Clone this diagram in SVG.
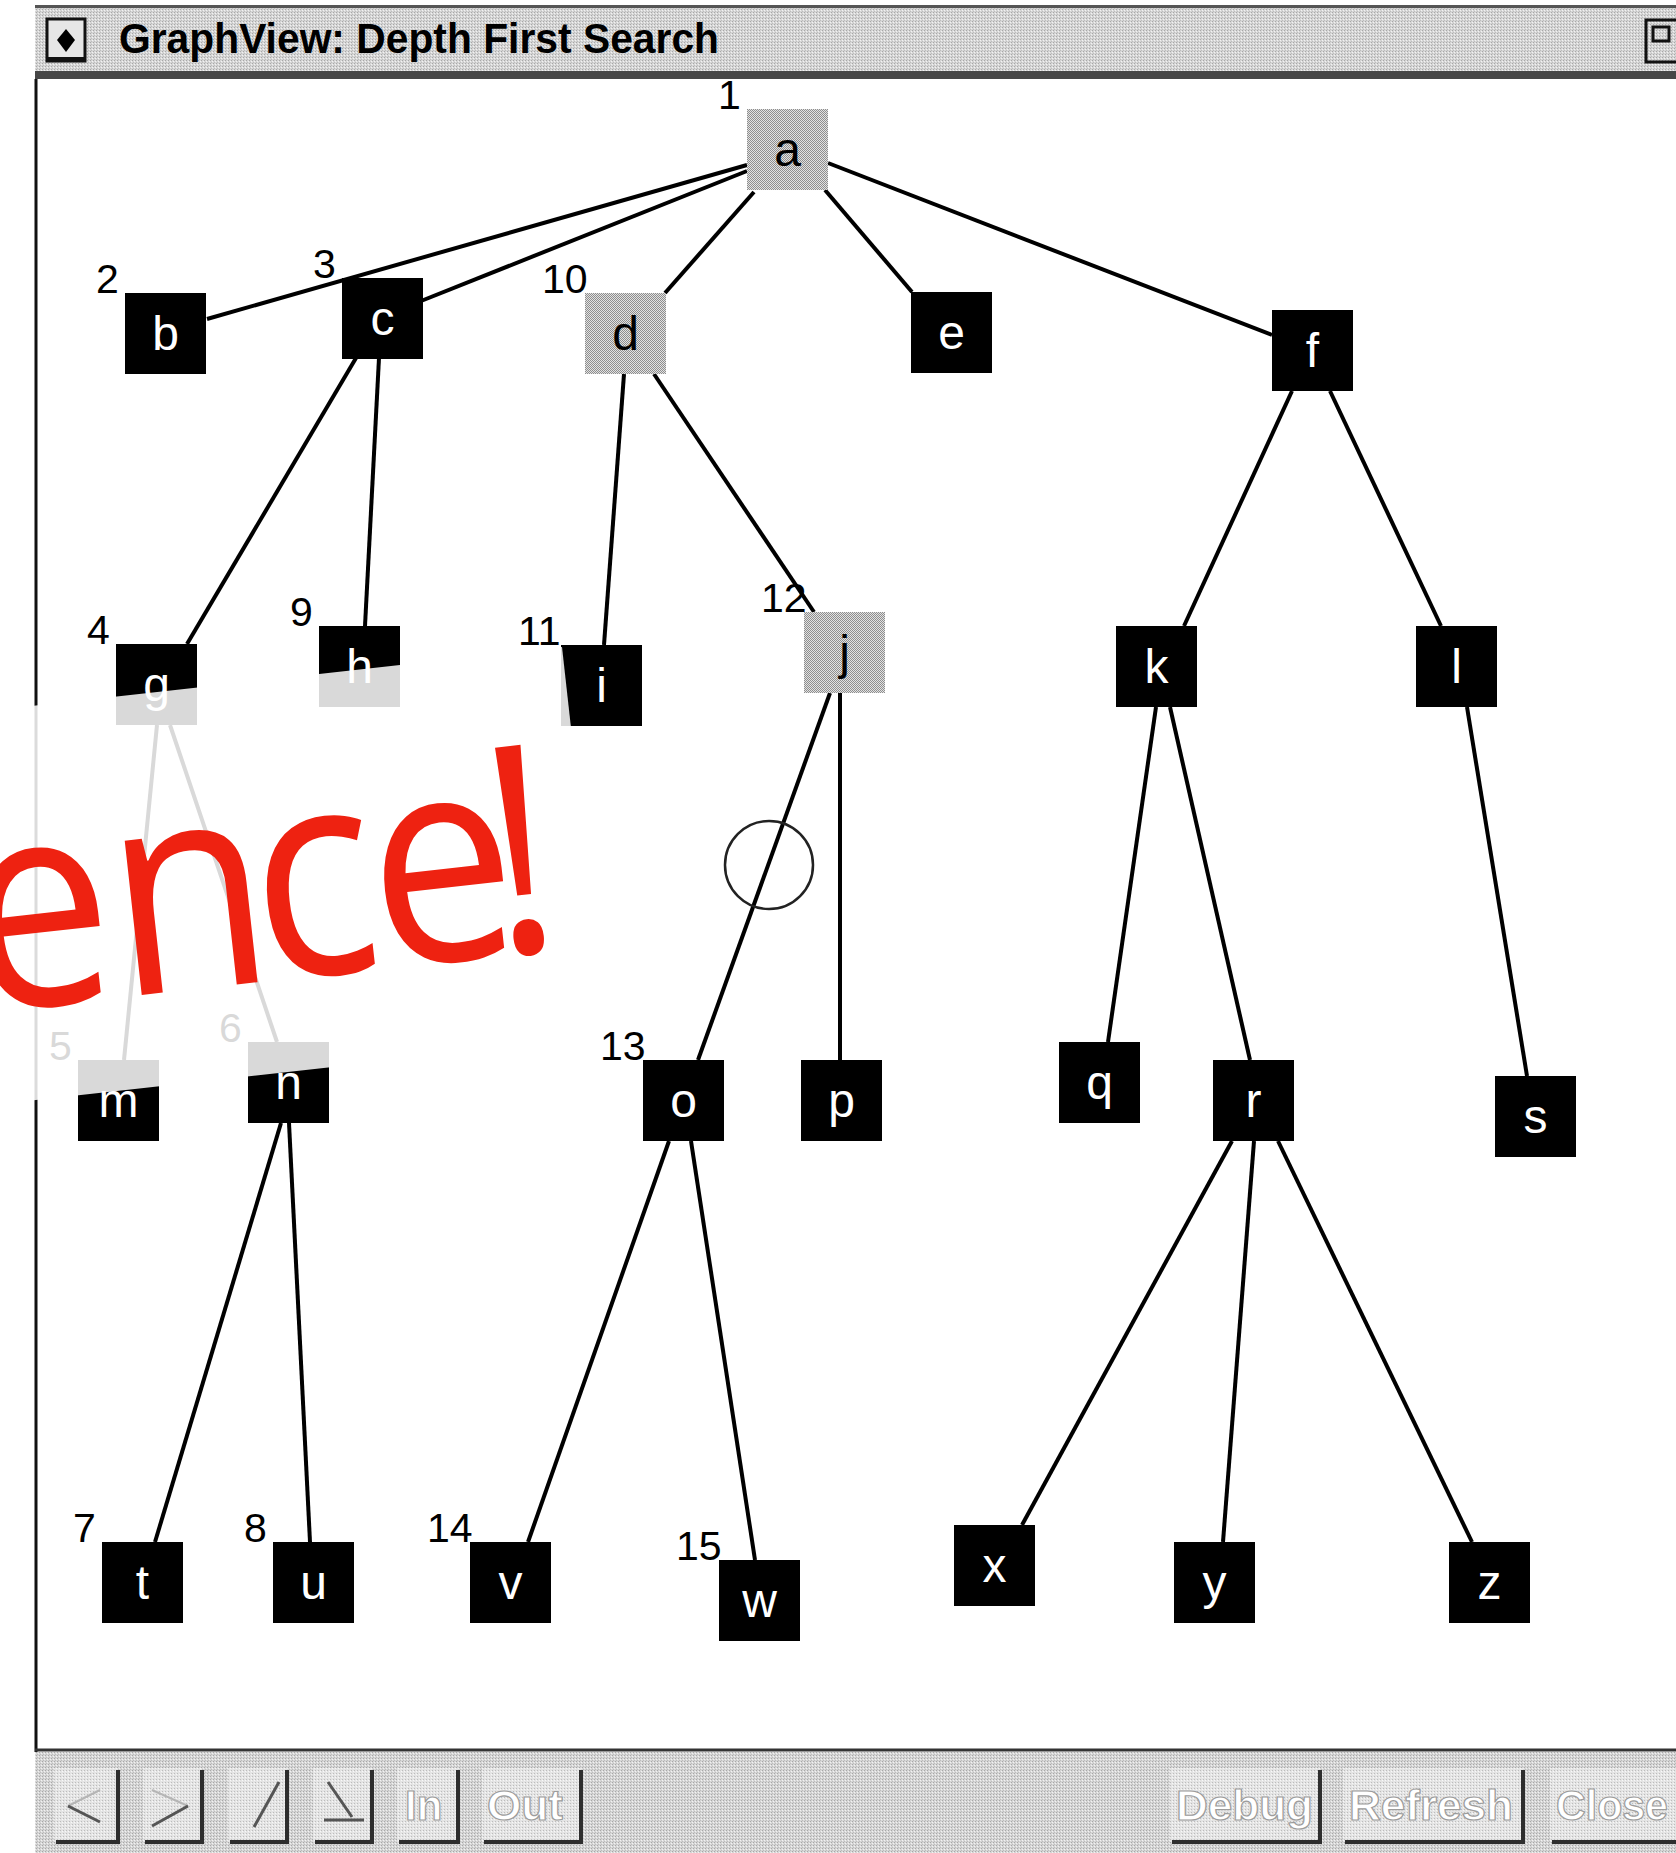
<svg xmlns="http://www.w3.org/2000/svg" width="1676" height="1853" viewBox="0 0 1676 1853">
<defs>
<pattern id="dith" width="2" height="2" patternUnits="userSpaceOnUse">
<rect width="2" height="2" fill="#e2e2e2"/>
<rect width="1" height="1" fill="#8e8e8e"/>
<rect x="1" y="1" width="1" height="1" fill="#8e8e8e"/>
</pattern>
<pattern id="bar" width="3" height="3" patternUnits="userSpaceOnUse">
<rect width="3" height="3" fill="#d6d6d6"/>
<rect width="1" height="1" fill="#a8a8a8"/>
<rect x="2" y="1" width="1" height="1" fill="#f2f2f2"/>
<rect x="1" y="2" width="1" height="1" fill="#bdbdbd"/>
</pattern>
<pattern id="btnp" width="3" height="3" patternUnits="userSpaceOnUse">
<rect width="3" height="3" fill="#e4e4e4"/>
<rect width="1" height="1" fill="#bcbcbc"/>
<rect x="2" y="1" width="1" height="1" fill="#f8f8f8"/>
</pattern>
</defs>
<style>
.box{fill:#000}
.gbox{fill:url(#dith)}
.lbl{font-family:"Liberation Sans",Arial,sans-serif;font-size:48px;text-anchor:middle;fill:#fff}
.lbl.dk{fill:#000}
.num{font-family:"Liberation Sans",Arial,sans-serif;font-size:41px;fill:#000}
#connectors line{stroke:#000;stroke-width:4}
.btn{fill:url(#btnp)}
.bedge{fill:none;stroke:#2e2e2e;stroke-width:4}
.btxt{font-family:"Liberation Sans",Arial,sans-serif;font-weight:bold;font-size:42px;fill:#fff;stroke:#9c9c9c;stroke-width:1.2}
.ico{fill:none;stroke:#555;stroke-width:3}
.ico2{fill:none;stroke:#b5b5b5;stroke-width:2}
</style>
<rect width="1676" height="1853" fill="#fff"/>

<g id="frame">
<line x1="36" y1="79" x2="36" y2="1752" stroke="#111" stroke-width="3"/>
<line x1="35" y1="1750" x2="1676" y2="1750" stroke="#333" stroke-width="3"/>
</g>

<g id="connectors">
<line x1="747" y1="165" x2="207" y2="319"/>
<line x1="747" y1="171" x2="421" y2="301"/>
<line x1="754" y1="192" x2="665" y2="293"/>
<line x1="825" y1="190" x2="912" y2="292"/>
<line x1="828" y1="163" x2="1272" y2="335"/>
<line x1="356" y1="358" x2="187" y2="644"/>
<line x1="379" y1="358" x2="365" y2="626"/>
<line x1="624" y1="374" x2="604" y2="645"/>
<line x1="654" y1="374" x2="814" y2="612"/>
<line x1="1292" y1="391" x2="1184" y2="626"/>
<line x1="1330" y1="391" x2="1441" y2="626"/>
<line x1="157" y1="725" x2="124" y2="1060"/>
<line x1="170" y1="725" x2="277" y2="1042"/>
<line x1="830" y1="693" x2="698" y2="1060"/>
<line x1="840" y1="693" x2="840" y2="1060"/>
<line x1="1156" y1="707" x2="1108" y2="1042"/>
<line x1="1170" y1="707" x2="1250" y2="1060"/>
<line x1="1467" y1="707" x2="1527" y2="1076"/>
<line x1="281" y1="1123" x2="155" y2="1542"/>
<line x1="289" y1="1123" x2="310" y2="1542"/>
<line x1="669" y1="1141" x2="528" y2="1542"/>
<line x1="691" y1="1141" x2="755" y2="1560"/>
<line x1="1232" y1="1141" x2="1022" y2="1525"/>
<line x1="1254" y1="1141" x2="1223" y2="1542"/>
<line x1="1278" y1="1141" x2="1472" y2="1542"/>
</g>

<g id="nodes">
<g id="node-a"><rect class="gbox" x="747" y="109" width="81" height="81"/><text class="lbl dk" x="787.5" y="166">a</text><text class="num" x="718" y="109">1</text></g>
<g id="node-b"><rect class="box" x="125" y="293" width="81" height="81"/><text class="lbl" x="165.5" y="350">b</text><text class="num" x="96" y="293">2</text></g>
<g id="node-c"><rect class="box" x="342" y="278" width="81" height="81"/><text class="lbl" x="382.5" y="335">c</text><text class="num" x="313" y="278">3</text></g>
<g id="node-d"><rect class="gbox" x="585" y="293" width="81" height="81"/><text class="lbl dk" x="625.5" y="350">d</text><text class="num" x="542" y="293">10</text></g>
<g id="node-e"><rect class="box" x="911" y="292" width="81" height="81"/><text class="lbl" x="951.5" y="349">e</text></g>
<g id="node-f"><rect class="box" x="1272" y="310" width="81" height="81"/><text class="lbl" x="1312.5" y="367">f</text></g>
<g id="node-g"><rect class="box" x="116" y="644" width="81" height="81"/><text class="lbl" x="156.5" y="701">g</text><text class="num" x="87" y="644">4</text></g>
<g id="node-h"><rect class="box" x="319" y="626" width="81" height="81"/><text class="lbl" x="359.5" y="683">h</text><text class="num" x="290" y="626">9</text></g>
<g id="node-i"><rect class="box" x="561" y="645" width="81" height="81"/><text class="lbl" x="601.5" y="702">i</text><text class="num" x="518" y="645">11</text></g>
<g id="node-j"><rect class="gbox" x="804" y="612" width="81" height="81"/><text class="lbl dk" x="844.5" y="669">j</text><text class="num" x="761" y="612">12</text></g>
<g id="node-k"><rect class="box" x="1116" y="626" width="81" height="81"/><text class="lbl" x="1156.5" y="683">k</text></g>
<g id="node-l"><rect class="box" x="1416" y="626" width="81" height="81"/><text class="lbl" x="1456.5" y="683">l</text></g>
<g id="node-m"><rect class="box" x="78" y="1060" width="81" height="81"/><text class="lbl" x="118.5" y="1117">m</text><text class="num" x="49" y="1060">5</text></g>
<g id="node-n"><rect class="box" x="248" y="1042" width="81" height="81"/><text class="lbl" x="288.5" y="1099">n</text><text class="num" x="219" y="1042">6</text></g>
<g id="node-o"><rect class="box" x="643" y="1060" width="81" height="81"/><text class="lbl" x="683.5" y="1117">o</text><text class="num" x="600" y="1060">13</text></g>
<g id="node-p"><rect class="box" x="801" y="1060" width="81" height="81"/><text class="lbl" x="841.5" y="1117">p</text></g>
<g id="node-q"><rect class="box" x="1059" y="1042" width="81" height="81"/><text class="lbl" x="1099.5" y="1099">q</text></g>
<g id="node-r"><rect class="box" x="1213" y="1060" width="81" height="81"/><text class="lbl" x="1253.5" y="1117">r</text></g>
<g id="node-s"><rect class="box" x="1495" y="1076" width="81" height="81"/><text class="lbl" x="1535.5" y="1133">s</text></g>
<g id="node-t"><rect class="box" x="102" y="1542" width="81" height="81"/><text class="lbl" x="142.5" y="1599">t</text><text class="num" x="73" y="1542">7</text></g>
<g id="node-u"><rect class="box" x="273" y="1542" width="81" height="81"/><text class="lbl" x="313.5" y="1599">u</text><text class="num" x="244" y="1542">8</text></g>
<g id="node-v"><rect class="box" x="470" y="1542" width="81" height="81"/><text class="lbl" x="510.5" y="1599">v</text><text class="num" x="427" y="1542">14</text></g>
<g id="node-w"><rect class="box" x="719" y="1560" width="81" height="81"/><text class="lbl" x="759.5" y="1617">w</text><text class="num" x="676" y="1560">15</text></g>
<g id="node-x"><rect class="box" x="954" y="1525" width="81" height="81"/><text class="lbl" x="994.5" y="1582">x</text></g>
<g id="node-y"><rect class="box" x="1174" y="1542" width="81" height="81"/><text class="lbl" x="1214.5" y="1599">y</text></g>
<g id="node-z"><rect class="box" x="1449" y="1542" width="81" height="81"/><text class="lbl" x="1489.5" y="1599">z</text></g>
</g>

<circle id="cursor" cx="769" cy="865" r="44" fill="none" stroke="#222" stroke-width="2.5"/>

<g id="titlebar">
<rect x="35" y="5" width="1641" height="74" fill="url(#bar)"/>
<rect x="35" y="5" width="1641" height="3" fill="#555"/>
<rect x="35" y="71" width="1641" height="8" fill="#474747"/>
<rect x="47" y="19" width="38" height="42" fill="#e6e6e6" stroke="#111" stroke-width="3"/>
<line x1="47" y1="59" x2="85" y2="59" stroke="#111" stroke-width="4"/>
<path d="M66,29 L75,40 L66,52 L57,40 Z" fill="#000"/>
<text x="119" y="53" font-family="Liberation Sans, Arial, sans-serif" font-weight="bold" font-size="43" textLength="600" lengthAdjust="spacingAndGlyphs" fill="#000">GraphView: Depth First Search</text>
<rect x="1646" y="20" width="40" height="42" fill="none" stroke="#111" stroke-width="3"/>
<rect x="1653" y="27" width="16" height="14" fill="none" stroke="#111" stroke-width="3"/>
</g>

<g id="toolbar">
<rect x="35" y="1752" width="1641" height="101" fill="url(#bar)"/>
<rect class="btn" x="54" y="1768" width="64" height="74"/>
<polyline class="bedge" points="56,1842 118,1842 118,1770"/>
<path class="ico2" d="M100,1790 L68,1806"/><path class="ico" d="M68,1806 L100,1822"/>
<rect class="btn" x="143" y="1768" width="59" height="74"/>
<polyline class="bedge" points="145,1842 202,1842 202,1770"/>
<path class="ico2" d="M152,1790 L188,1806"/><path class="ico" d="M152,1826 L188,1806"/>
<rect class="btn" x="228" y="1768" width="59" height="74"/>
<polyline class="bedge" points="230,1842 287,1842 287,1770"/>
<path class="ico" d="M254,1827 L279,1782"/>
<rect class="btn" x="313" y="1768" width="59" height="74"/>
<polyline class="bedge" points="315,1842 372,1842 372,1770"/>
<path class="ico" d="M328,1782 L352,1817 M324,1820 L364,1820"/>
<rect class="btn" x="397" y="1768" width="61" height="74"/>
<polyline class="bedge" points="399,1842 458,1842 458,1770"/>
<text class="btxt" x="405" y="1820">In</text>
<rect class="btn" x="482" y="1768" width="99" height="74"/>
<polyline class="bedge" points="484,1842 581,1842 581,1770"/>
<text class="btxt" x="487" y="1820" textLength="76" lengthAdjust="spacingAndGlyphs">Out</text>
<rect class="btn" x="1170" y="1768" width="150" height="74"/>
<polyline class="bedge" points="1172,1842 1320,1842 1320,1770"/>
<text class="btxt" x="1176" y="1820" textLength="137" lengthAdjust="spacingAndGlyphs">Debug</text>
<rect class="btn" x="1343" y="1768" width="180" height="74"/>
<polyline class="bedge" points="1345,1842 1523,1842 1523,1770"/>
<text class="btxt" x="1349" y="1820" textLength="164" lengthAdjust="spacingAndGlyphs">Refresh</text>
<rect class="btn" x="1550" y="1768" width="126" height="74"/>
<polyline class="bedge" points="1552,1842 1676,1842"/>
<text class="btxt" x="1556" y="1820" textLength="112" lengthAdjust="spacingAndGlyphs">Close</text>
</g>

<g id="overlay">
<rect x="-200" y="647" width="762" height="392" transform="rotate(-6.35 562 647)" fill="#fff" fill-opacity="0.85"/>
<text transform="translate(150 994) rotate(-6.3) scale(0.9 1)" x="-195 -34 125 256 387" y="0" font-family="'Open Sans', 'Noto Sans', sans-serif" font-weight="500" font-size="290" fill="#ee2211">ence!</text>
</g>
</svg>
